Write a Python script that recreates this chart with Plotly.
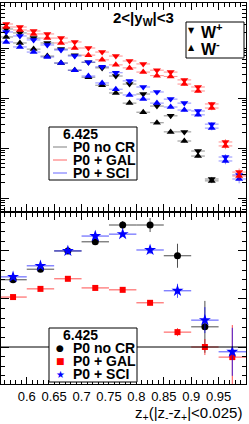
import plotly.graph_objects as go

W, H = 249, 424
def PX(x): return x / W
def PY(y): return 1 - y / H

# ---------------- data ----------------
# top panel: bin centres (bins of 0.025)
z_top = [0.5625, 0.5875, 0.6125, 0.6375, 0.6625, 0.6875, 0.7125, 0.7375, 0.7625,
         0.7875, 0.8125, 0.8375, 0.8625, 0.8875, 0.9125, 0.9375, 0.9625, 0.9875]

# W+ (down triangles) and W- (up triangles), arbitrary units (log scale)
wp_nocr = [240, 200, 158, 126, 95, 72, 52, 40, 27.5, 19, 12, 6.9, 4.4, 2.1, 0.87, 0.24]
wm_nocr = [166, 126, 95, 69, 50, 36, 26, 18, 12.6, 7.9, 5.2, 3.2, 2.1, 1.38, 0.69, 0.22]
wp_gal = [302, 263, 219, 191, 158, 132, 100, 83, 69, 55, 48, 36, 33, 23, 16.6, 7.6, 1.32, 0.33]
wm_gal = [263, 229, 191, 158, 126, 100, 72, 58, 46, 40, 33, 28, 27, 19, 13.8, 6.3, 1.10, 0.275]
wp_sci = [209, 174, 145, 115, 91, 69, 52, 42, 32, 22, 16.6, 13.2, 9.5, 7.9, 5.5, 3.0, 0.66, 0.29]
wm_sci = [132, 105, 83, 66, 50, 36, 27.5, 20, 15, 11.5, 9.5, 7.9, 6.6, 5.75, 4.6, 2.5, 0.55, 0.24]
rel_err_top = [0.02, 0.02, 0.02, 0.02, 0.02, 0.02, 0.03, 0.03, 0.03, 0.04, 0.04, 0.05,
               0.06, 0.07, 0.08, 0.10, 0.14, 0.18]

# bottom panel: bin centres (bins of 0.05), ratios
z_bot = [0.575, 0.625, 0.675, 0.725, 0.775, 0.825, 0.875, 0.925, 0.975]
r_nocr = [1.140, 1.162, 1.200, 1.219, 1.254, 1.254, 1.190, 1.042]
e_nocr = [0.0033, 0.0033, 0.0042, 0.005, 0.0083, 0.0146, 0.025, 0.054]
r_gal = [1.104, 1.121, 1.142, 1.123, 1.119, 1.092, 1.031, 1.0, 0.979]
e_gal = [0.0025, 0.0025, 0.0033, 0.0033, 0.0042, 0.005, 0.0083, 0.0167, 0.0667]
r_sci = [1.146, 1.169, 1.200, 1.231, 1.235, 1.202, 1.117, 1.056, 0.990]
e_sci = [0.0025, 0.0033, 0.0042, 0.0042, 0.005, 0.0083, 0.0146, 0.027, 0.05]

xticks = [0.55, 0.6, 0.65, 0.7, 0.75, 0.8, 0.85, 0.9, 0.95, 1.0]
xticklabels = ["0.55", "0.6", "0.65", "0.7", "0.75", "0.8", "0.85", "0.9", "0.95", "1"]

BLACK, RED, BLUE = "#000000", "#ff0000", "#0000ff"
LBLACK, LRED, LBLUE = "rgba(0,0,0,0.45)", "rgba(255,0,0,0.45)", "rgba(0,0,255,0.45)"
MBLACK, MRED, MBLUE = "rgba(0,0,0,0.7)", "rgba(255,0,0,0.7)", "rgba(0,0,255,0.7)"

fig = go.Figure()

def top_trace(vals, sym, col, lcol):
    n = len(vals)
    fig.add_trace(go.Scatter(
        x=z_top[:n], y=vals, mode="markers", xaxis="x", yaxis="y",
        marker=dict(symbol=sym, size=7, color=col, line=dict(width=0)),
        error_x=dict(type="constant", value=0.0125, width=0, thickness=1, color=lcol),
        error_y=dict(type="data", array=[v * e for v, e in zip(vals, rel_err_top[:n])],
                     width=0, thickness=1, color=lcol),
        showlegend=False, cliponaxis=True, hoverinfo="skip"))

top_trace(wp_nocr, "triangle-down", BLACK, LBLACK)
top_trace(wm_nocr, "triangle-up", BLACK, LBLACK)
top_trace(wp_sci, "triangle-down", BLUE, LBLUE)
top_trace(wm_sci, "triangle-up", BLUE, LBLUE)
top_trace(wp_gal, "triangle-down", RED, LRED)
top_trace(wm_gal, "triangle-up", RED, LRED)

def bot_trace(vals, errs, sym, size, col, lcol):
    n = len(vals)
    fig.add_trace(go.Scatter(
        x=z_bot[:n], y=vals, mode="markers", xaxis="x2", yaxis="y2",
        marker=dict(symbol=sym, size=size, color=col, line=dict(width=0)),
        error_x=dict(type="constant", value=0.025, width=0, thickness=1, color=lcol),
        error_y=dict(type="data", array=errs, width=0, thickness=1, color=lcol),
        showlegend=False, cliponaxis=True, hoverinfo="skip"))

bot_trace(r_nocr, e_nocr, "circle", 7, BLACK, MBLACK)
bot_trace(r_gal, e_gal, "square", 6, RED, MRED)
bot_trace(r_sci, e_sci, "star", 9, BLUE, MBLUE)

minor_log = [m * 10 ** d for d in range(-2, 3) for m in range(2, 10)]

axcommon = dict(showgrid=False, zeroline=False, showline=True, linecolor="black",
                linewidth=1, mirror="ticks", ticks="inside", tickcolor="black")

fig.update_layout(
    width=W, height=H, margin=dict(l=0, r=0, t=0, b=0),
    paper_bgcolor="white", plot_bgcolor="white", showlegend=False,
    xaxis=dict(domain=[PX(1), PX(246)], range=[0.553, 1.0], anchor="y",
               tickvals=xticks, ticklen=7, showticklabels=False,
               minor=dict(ticks="inside", ticklen=4, dtick=0.01, tick0=0.55, tickcolor="black"),
               **axcommon),
    yaxis=dict(domain=[PY(211), PY(3)], type="log", range=[-1.26, 2.90], anchor="x",
               tickvals=[0.01, 0.1, 1, 10, 100, 1000], ticklen=8, showticklabels=False,
               minor=dict(ticks="inside", ticklen=4, tickvals=minor_log, tickcolor="black"),
               **axcommon),
    xaxis2=dict(domain=[PX(1), PX(246)], range=[0.553, 1.0], anchor="y2",
                tickvals=xticks, ticktext=xticklabels, ticklen=7,
                tickfont=dict(family="Liberation Sans", size=13, color="black"),
                minor=dict(ticks="inside", ticklen=4, dtick=0.01, tick0=0.55, tickcolor="black"),
                **axcommon),
    yaxis2=dict(domain=[PY(384), PY(213)], range=[0.923, 1.279], anchor="x2",
                tick0=1.0, dtick=0.1, ticklen=8, showticklabels=False,
                minor=dict(ticks="inside", ticklen=4, dtick=0.02, tick0=1.0, tickcolor="black"),
                **axcommon),
)

shapes = []
# reference line at ratio 1
shapes.append(dict(type="line", xref="x2", yref="y2", x0=0.553, x1=1.0, y0=1, y1=1,
                   line=dict(color="black", width=1)))
# legend boxes
for (x0, y0, x1, y1) in [(186, 22, 244, 58), (49, 127, 137, 180), (49, 328, 137, 382)]:
    shapes.append(dict(type="rect", xref="paper", yref="paper",
                       x0=PX(x0), x1=PX(x1), y0=PY(y1), y1=PY(y0),
                       fillcolor="white", line=dict(color="black", width=1), layer="above"))
# legend line symbols (top panel)
for yy, col in [(147, "rgba(0,0,0,0.5)"), (160, "rgba(255,0,0,0.6)"), (173, "rgba(0,0,255,0.6)")]:
    shapes.append(dict(type="line", xref="paper", yref="paper", x0=PX(53), x1=PX(67),
                       y0=PY(yy), y1=PY(yy), line=dict(color=col, width=1)))
fig.update_layout(shapes=shapes)

BF = dict(family="Liberation Sans", size=14, color="black")
ann = []
def A(text, x, y, font, xanchor="left"):
    ann.append(dict(text=text, x=PX(x), y=PY(y), xref="paper", yref="paper",
                    showarrow=False, xanchor=xanchor, yanchor="middle", font=font))

A("<b>2<|y<sub>W</sub>|<3</b>", 143, 19, dict(family="Liberation Sans", size=15, color="black"), "center")
A("▼", 191, 31, dict(family="DejaVu Sans", size=8, color="black"), "center")
A("▲", 191, 48, dict(family="DejaVu Sans", size=8, color="black"), "center")
A("<b>W<sup>+</sup></b>", 199, 31, dict(family="Liberation Sans", size=16, color="black"))
A("<b>W<sup>-</sup></b>", 199, 48, dict(family="Liberation Sans", size=16, color="black"))

A("<b>6.425</b>", 80, 134, BF, "center")
A("<b>P0 no CR</b>", 71, 147, BF)
A("<b>P0 + GAL</b>", 71, 160, BF)
A("<b>P0 + SCI</b>", 71, 173, BF)

A("<b>6.425</b>", 80, 335, BF, "center")
A("●", 60, 348, dict(family="DejaVu Sans", size=9, color="black"), "center")
A("■", 60, 361, dict(family="DejaVu Sans", size=9, color="red"), "center")
A("★", 60, 374, dict(family="DejaVu Sans", size=10, color="blue"), "center")
A("<b>P0 no CR</b>", 71, 348, BF)
A("<b>P0 + GAL</b>", 71, 361, BF)
A("<b>P0 + SCI</b>", 71, 374, BF)

ann.append(dict(text="z<sub>+</sub>(|z<sub>-</sub>-z<sub>+</sub>|<0.025)", x=PX(244), y=PY(413),
                xref="paper", yref="paper", showarrow=False, xanchor="right", yanchor="middle",
                font=dict(family="Liberation Sans", size=15, color="black")))
fig.update_layout(annotations=ann)

fig.write_html("out.html", config={"displayModeBar": False},
               post_script="document.body.style.margin='0';")
